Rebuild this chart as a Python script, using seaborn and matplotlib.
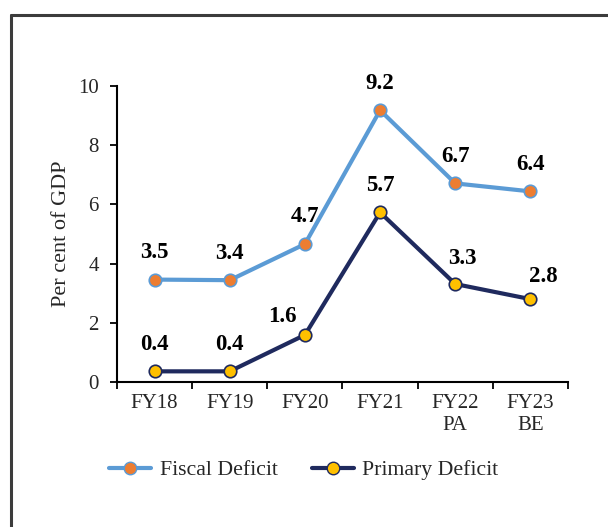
import numpy as np
import pandas as pd
import matplotlib
matplotlib.use('Agg')
import matplotlib.pyplot as plt
import seaborn as sns
from matplotlib.lines import Line2D
from matplotlib.ticker import FixedLocator

years = ['FY18', 'FY19', 'FY20', 'FY21', 'FY22\nPA', 'FY23\nBE']
fiscal = [3.46, 3.44, 4.66, 9.18, 6.71, 6.44]
primary = [0.36, 0.36, 1.59, 5.73, 3.31, 2.80]

# label offsets in points (dx, dy) relative to each marker
fiscal_off = [(0, 12), (0, 12), (0, 12), (0, 12), (0, 12), (0, 12)]
primary_off = [(0, 12), (0, 12), (-16, 6), (0, 12), (5, 11), (9, 9)]

sns.set_theme(style='white')
plt.rcParams['font.family'] = ['Liberation Serif', 'DejaVu Serif']

FS = 15
BLUE = '#5B9BD5'
ORANGE = '#ED7D31'
NAVY = '#1F2A5E'
GOLD = '#FFC000'

df = pd.DataFrame({'Year': years, 'Fiscal Deficit': fiscal,
                   'Primary Deficit': primary})
long = df.melt(id_vars='Year', var_name='Series', value_name='Value')

fig = plt.figure(figsize=(6.08, 5.27), dpi=100)
ax = fig.add_axes([117/608, 1-382/527, (568-117)/608, (382-86)/527])

sns.lineplot(data=long, x='Year', y='Value', hue='Series', sort=False,
             palette={'Fiscal Deficit': BLUE, 'Primary Deficit': NAVY},
             linewidth=3.0, ax=ax, legend=False)
ax.plot(range(len(years)), fiscal, 'o', ms=9, mfc=ORANGE, mec=BLUE, mew=1.2,
        zorder=3)
ax.plot(range(len(years)), primary, 'o', ms=9, mfc=GOLD, mec=NAVY, mew=1.2,
        zorder=3)

for vals, offs in ((fiscal, fiscal_off), (primary, primary_off)):
    for i, (v, o) in enumerate(zip(vals, offs)):
        ax.annotate(f'{v:.1f}', (i, v), xytext=o, textcoords='offset points',
                    ha='center', va='bottom', fontsize=16.5, fontweight='bold',
                    color='black')

ax.set_xlim(-0.5, len(years) - 0.5)
ax.set_ylim(0, 10)
ax.set_yticks([0, 2, 4, 6, 8, 10])
ax.set_xticks(range(len(years)))
ax.set_xticklabels(years)
ax.xaxis.set_minor_locator(FixedLocator(np.arange(-0.5, len(years), 1)))
ax.tick_params(axis='x', which='major', length=0, pad=9, labelsize=FS)
ax.tick_params(axis='x', which='minor', length=5, width=1.3, color='black',
               bottom=True, direction='out')
ax.tick_params(axis='y', length=5, width=1.3, color='black', left=True,
               direction='out', pad=8, labelsize=FS)
ax.set_xlabel('')
ax.set_ylabel('Per cent of GDP', fontsize=16, labelpad=5)
for s in ('top', 'right'):
    ax.spines[s].set_visible(False)
for s in ('left', 'bottom'):
    ax.spines[s].set_color('black')
    ax.spines[s].set_linewidth(1.5)

handles = [
    Line2D([], [], color=BLUE, lw=3.0, marker='o', ms=9, mfc=ORANGE, mec=BLUE),
    Line2D([], [], color=NAVY, lw=3.0, marker='o', ms=9, mfc=GOLD, mec=NAVY),
]
fig.legend(handles, ['Fiscal Deficit', 'Primary Deficit'], loc='center',
           bbox_to_anchor=(304/608, 1-470/527), ncol=2, frameon=False,
           fontsize=15.7, handlelength=1.9, columnspacing=1.6,
           handletextpad=0.4)

# outer frame (top and left edges visible)
fig.add_artist(Line2D([10.5/608, 10.5/608], [0, 1-14.5/527], color='#3C3C3C',
                      lw=2.2, transform=fig.transFigure))
fig.add_artist(Line2D([10.5/608, 1], [1-14.5/527, 1-14.5/527], color='#3C3C3C',
                      lw=2.2, transform=fig.transFigure))

fig.savefig('out.png', dpi=100, facecolor='white')
